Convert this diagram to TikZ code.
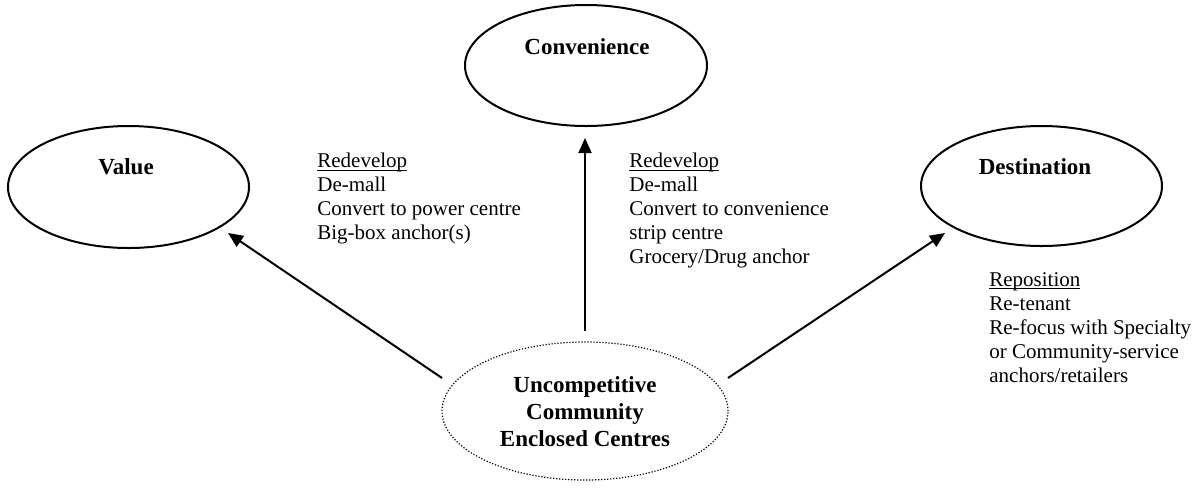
\documentclass[tikz,border=0pt]{standalone}
\usepackage{fontspec}
\setmainfont{Liberation Serif}
\usetikzlibrary{shapes.geometric,arrows.meta}
\newcommand\myul[1]{\setbox0\hbox{#1}\rlap{\rule[-1.5pt]{\wd0}{0.5pt}}\box0}
\tikzset{
  oval/.style={ellipse, draw, line width=1pt, inner sep=0pt},
  title/.style={font=\fontsize{11.5}{13.5}\selectfont\bfseries, inner sep=0pt, align=center},
  blurb/.style={font=\fontsize{10.5}{12}\selectfont, inner sep=0pt, align=left, anchor=north west},
  arr/.style={line width=1pt, -{Triangle[length=7.5pt,width=6.5pt]}}
}
\begin{document}
\begin{tikzpicture}[x=0.5pt,y=-0.5pt]
\useasboundingbox (0,0) rectangle (1200,489);
% ellipses
\node[oval, minimum width=121pt, minimum height=60.5pt] (conv) at (586,65.5) {};
\node[oval, minimum width=120.5pt, minimum height=61pt] (value) at (128.5,187) {};
\node[oval, minimum width=120.5pt, minimum height=60pt] (dest) at (1041.5,186) {};
\node[ellipse, draw, line width=0.6pt, dash pattern=on 0.6pt off 0.9pt, inner sep=0pt,
      minimum width=143pt, minimum height=69pt] (unc) at (585,411) {};
% titles
\node[title] (convt) at (587,47) {Convenience};
\node[title] (valuet) at (126,167) {Value};
\node[title] (destt) at (1035,167) {Destination};
\node[title] (unct) at (585,412) {Uncompetitive\\Community\\Enclosed Centres};
% arrow end points
\coordinate (a1s) at (442,378);
\coordinate (a1e) at (228,233);
\coordinate (a2s) at (585,331);
\coordinate (a2e) at (585,138);
\coordinate (a3s) at (728,378);
\coordinate (a3e) at (945,233);
\draw[arr] (a1s) -- (a1e);
\draw[arr] (a2s) -- (a2e);
\draw[arr] (a3s) -- (a3e);
% text blocks
\node[blurb] (lt) at (317,153) {\myul{Redevelop}\\De-mall\\Convert to power centre\\Big-box anchor(s)};
\node[blurb] (mt) at (629,153) {\myul{Redevelop}\\De-mall\\Convert to convenience\\strip centre\\Grocery/Drug anchor};
\node[blurb] (rt) at (989,272) {\myul{Reposition}\\Re-tenant\\Re-focus with Specialty\\or Community-service\\anchors/retailers};
\end{tikzpicture}
\end{document}
